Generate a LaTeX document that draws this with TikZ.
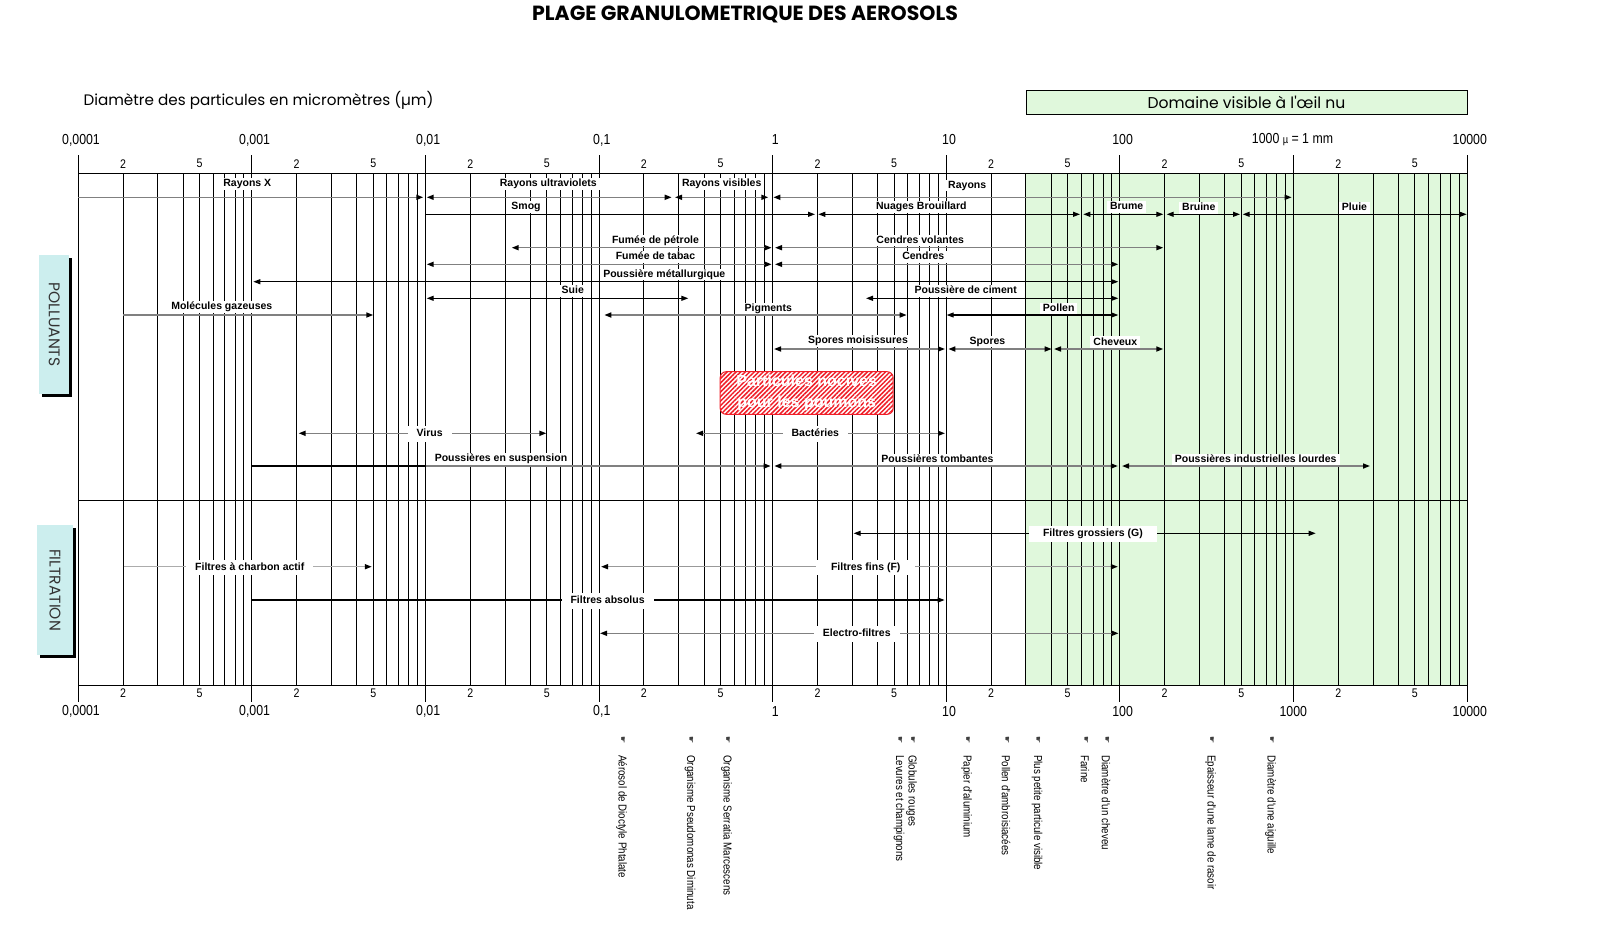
\documentclass[tikz,border=0pt]{standalone}
\usepackage{fontspec}
\setmainfont{Liberation Sans}
\newfontfamily\narrowfont[FakeStretch=0.85]{Liberation Sans}
\newfontfamily\gothfont{Poppins}
\newfontfamily\handfont{DejaVu Sans}
\usetikzlibrary{arrows.meta, patterns.meta}
\definecolor{visGreen}{RGB}{224,248,220}
\definecolor{tagCyan}{RGB}{204,238,238}
\definecolor{rangeGray}{RGB}{128,128,128}
\definecolor{alertRed}{RGB}{240,30,40}

\begin{document}
\begin{tikzpicture}[
    x=1pt, y=-1pt,
    hd/.tip={Triangle[length=7pt, width=5pt, black]},
    gline/.style={line width=1pt},
    rg/.style={line width=1.5pt, draw=rangeGray},
    rk/.style={line width=1.1pt, draw=black},
    two/.style={hd-hd},
    one/.style={-hd},
    lab/.style={font=\fontsize{10.5}{12}\selectfont\bfseries, fill=white, inner xsep=3pt, inner ysep=1pt, text height=7.6pt, text depth=2.2pt},
    labon/.style={lab, inner xsep=9pt, inner ysep=3pt},
    axnum/.style={font=\narrowfont\fontsize{14.5}{16}\selectfont, inner sep=0pt},
    axsub/.style={font=\narrowfont\fontsize{12.5}{14}\selectfont, inner sep=0pt},
    obj/.style={font=\narrowfont\fontsize{11.5}{13}\selectfont, rotate=-90, anchor=west, inner sep=0pt},
    hand/.style={font=\handfont\fontsize{8}{9}\selectfont, rotate=-90, inner sep=0pt, text=black!75},
    tagbox/.style={fill=tagCyan, inner sep=0pt, rotate=-90, text=black!80, font=\gothfont\fontsize{15.5}{17}\selectfont},
    alertbox/.style={draw=alertRed, line width=1pt, rounded corners=6pt, minimum width=173pt, minimum height=42.6pt, inner sep=0pt,
        preaction={fill=white}, pattern={Lines[angle=45, distance=3.2pt, line width=1.5pt]}, pattern color=alertRed,
        text=white, align=center, font=\fontsize{16}{21}\selectfont\bfseries}
]
\useasboundingbox (0,0) rectangle (1604,927);

% titles
\node[font=\gothfont\bfseries\fontsize{20.5}{22}\selectfont] (title) at (745,14.3) {PLAGE GRANULOMETRIQUE DES AEROSOLS};
\node[anchor=west, font=\gothfont\fontsize{15.2}{17}\selectfont] (unit) at (80,100.2) {Diamètre des particules en micromètres (µm)};
\node[draw, fill=visGreen, minimum width=441.5pt, minimum height=24.3pt, inner sep=0pt, font=\gothfont\fontsize{15.6}{17}\selectfont] (visible) at (1246.5,102.2) {Domaine visible à l'œil nu};

% side tags
\fill (42.3,258) rectangle (72.3,397);
\node[tagbox, minimum width=139pt, minimum height=30pt] (poll) at (54.3,324.5) {POLLUANTS};
\fill (40.3,528) rectangle (75.7,658);
\node[tagbox, minimum width=130pt, minimum height=35.4pt] (filt) at (55,590) {FILTRATION};

% visible range
\fill[visGreen] (1025.8,173.3) rectangle (1467.3,685.3);

% log grid
\foreach \d in {0,...,7}
  \foreach \f in {0.258,0.458,0.605,0.699,0.778,0.845,0.903,0.954}
    \draw[gline] ({78.3+173.6*(\d+\f)},173.3) -- ++(0,512);
\foreach \d in {0,...,8}
  \draw[gline] ({78.3+173.6*\d},155) -- ++(0,547);
\draw[gline] (78.3,173.3) -- (1467.3,173.3);
\draw[gline] (78.3,500) -- (1467.3,500);
\draw[gline] (78.3,685.3) -- (1467.3,685.3);

% scale numbers
\foreach \d/\t in {0/{0,0001},1/{0,001},2/{0,01},3/{0,1},4/1,5/10,6/100,8/10000}{
  \node[axnum] (top\d) at ({81+173.6*\d},140) {\t};
  \node[axnum] (bot\d) at ({81+173.6*\d},711.7) {\t};
}
\node[axnum] (top7) at (1292.5,140) {1000 {\fontsize{11}{12}\selectfont µ} = 1 mm};
\node[axnum] (bot7) at (1293.3,711.7) {1000};
\foreach \d in {0,...,7}{
  \node[axsub] (ttwo\d) at ({78.3+173.6*(\d+0.258)},163.7) {2};
  \node[axsub] (tfive\d) at ({78.3+173.6*(\d+0.699)},163.7) {5};
  \node[axsub] (btwo\d) at ({78.3+173.6*(\d+0.258)},693.3) {2};
  \node[axsub] (bfive\d) at ({78.3+173.6*(\d+0.699)},693.3) {5};
}

% polluants
\draw[rg, one] (78.3,197.3) -- (423.3,197.3);
\draw[rg, two] (426.7,197.3) -- (671.7,197.3);
\draw[rg, two] (675,197.3) -- (768.3,197.3);
\draw[rg, two] (773.3,197.3) -- (1291.7,197.3);
\draw[rk, one] (425.7,214.3) -- (815,214.3);
\draw[rk, two] (818.3,214.3) -- (1080,214.3);
\draw[rk, two] (1083.3,214.3) -- (1163.3,214.3);
\draw[rk, two] (1166.7,214.3) -- (1240,214.3);
\draw[rk, two] (1242.7,214.3) -- (1466.7,214.3);
\draw[rg, two] (511.7,247.7) -- (771.7,247.7);
\draw[rg, two] (775,247.7) -- (1163.3,247.7);
\draw[rg, two] (426.7,264.3) -- (771.7,264.3);
\draw[rg, two] (775,264.3) -- (1118.3,264.3);
\draw[rk, two] (253.3,281.7) -- (1118.3,281.7);
\draw[rk, two] (426.7,298.3) -- (688.3,298.3);
\draw[rk, two] (866,298.3) -- (1118.3,298.3);
\draw[rg, one] (123.3,315) -- (373.3,315);
\draw[rg, two] (604.3,315) -- (906.7,315);
\draw[rk, two] (946.7,315) -- (1118.3,315);
\draw[rg, two] (774,349) -- (945,349);
\draw[rg, two] (948.3,349) -- (1051.7,349);
\draw[rg, two] (1054,349) -- (1163.3,349);
\draw[rg, two] (298.6,433.3) -- (546.4,433.3);
\draw[rg, two] (696,433.3) -- (945,433.3);
\draw[rk] (252.3,466) -- (425.7,466);
\draw[rg, one] (425.7,466) -- (770.7,466);
\draw[rg, two] (774.3,466) -- (1117.9,466);
\draw[rg, two] (1122,466) -- (1370,466);

% filtration
\draw[rk, two] (853.6,533.3) -- (1315.7,533.3);
\draw[rg, one, draw=rangeGray!65] (123.6,566.7) -- (371.8,566.7);
\draw[rg, two, draw=rangeGray!80] (601,566.7) -- (1117.9,566.7);
\draw[rk, one] (252.3,600) -- (944.6,600);
\draw[rg, two] (600,633.3) -- (1118.6,633.3);

% labels
\node[lab] (rayx) at (247.3,184) {Rayons X};
\node[lab] (rayuv) at (548.3,184) {Rayons ultraviolets};
\node[lab] (rayvis) at (721.7,184) {Rayons visibles};
\node[lab] (rayir) at (967.2,185.5) {Rayons};
\node[lab] (smog) at (526,207.2) {Smog};
\node[lab] (nuages) at (921.3,207.2) {Nuages Brouillard};
\node[lab] (brume) at (1126.7,207.2) {Brume};
\node[lab] (bruine) at (1198.8,207.8) {Bruine};
\node[lab] (pluie) at (1354.5,207.8) {Pluie};
\node[lab] (petrole) at (655.5,240.5) {Fumée de pétrole};
\node[lab] (volantes) at (920.2,240.5) {Cendres volantes};
\node[lab] (tabac) at (655.5,257.2) {Fumée de tabac};
\node[lab] (cendres) at (923.3,257.2) {Cendres};
\node[lab] (metal) at (664.3,274.5) {Poussière métallurgique};
\node[lab] (suie) at (572.8,290.8) {Suie};
\node[lab] (ciment) at (965.7,291) {Poussière de ciment};
\node[lab] (molec) at (221.8,306.8) {Molécules gazeuses};
\node[lab] (pigm) at (768.3,308.5) {Pigments};
\node[lab] (pollen) at (1058.7,308.5) {Pollen};
\node[lab] (moisi) at (858,340.8) {Spores moisissures};
\node[lab] (spores) at (987.5,341.5) {Spores};
\node[lab] (cheveux) at (1115.3,342.3) {Cheveux};
\node[alertbox] (nocif) at (806.7,393) {Particules nocives\\pour les poumons};
\node[labon] (virus) at (429.6,434) {Virus};
\node[labon] (bact) at (815.3,434) {Bactéries};
\node[lab] (susp) at (501,459) {Poussières en suspension};
\node[lab] (tomb) at (937.5,459.5) {Poussières tombantes};
\node[lab] (indus) at (1255.7,459.5) {Poussières industrielles lourdes};
\node[labon, inner xsep=14pt] (gros) at (1092.9,534) {Filtres grossiers (G)};
\node[labon] (charbon) at (249.8,567.4) {Filtres à charbon actif};
\node[labon, inner xsep=15pt] (fins) at (865.7,567.4) {Filtres fins (F)};
\node[labon] (absolus) at (607.6,600.7) {Filtres absolus};
\node[labon] (electro) at (856.8,634) {Electro-filtres};

% reference objects
\foreach \x/\t/\n in {621.7/Aérosol de Dioctyle Phtalate/aer, 690/Organisme Pseudomonas Diminuta/pse,
    726.7/Organisme Serratia Marcescens/ser, 899/Levures et champignons/lev, 911.7/Globules rouges/glo,
    966.7/Papier d'aluminium/alu, 1006/Pollen d'ambroisiacées/amb, 1037/Plus petite particule visible/ppv,
    1085/Farine/far, 1106/Diamètre d'un cheveu/chv, 1210.7/Epaisseur d'une lame de rasoir/ras,
    1270.7/Diamètre d'une aiguille/aig}{
  \node[hand] (hand\n) at (\x+1,740) {☛};
  \node[obj] (obj\n) at (\x,755) {\t};
}
\end{tikzpicture}
\end{document}
